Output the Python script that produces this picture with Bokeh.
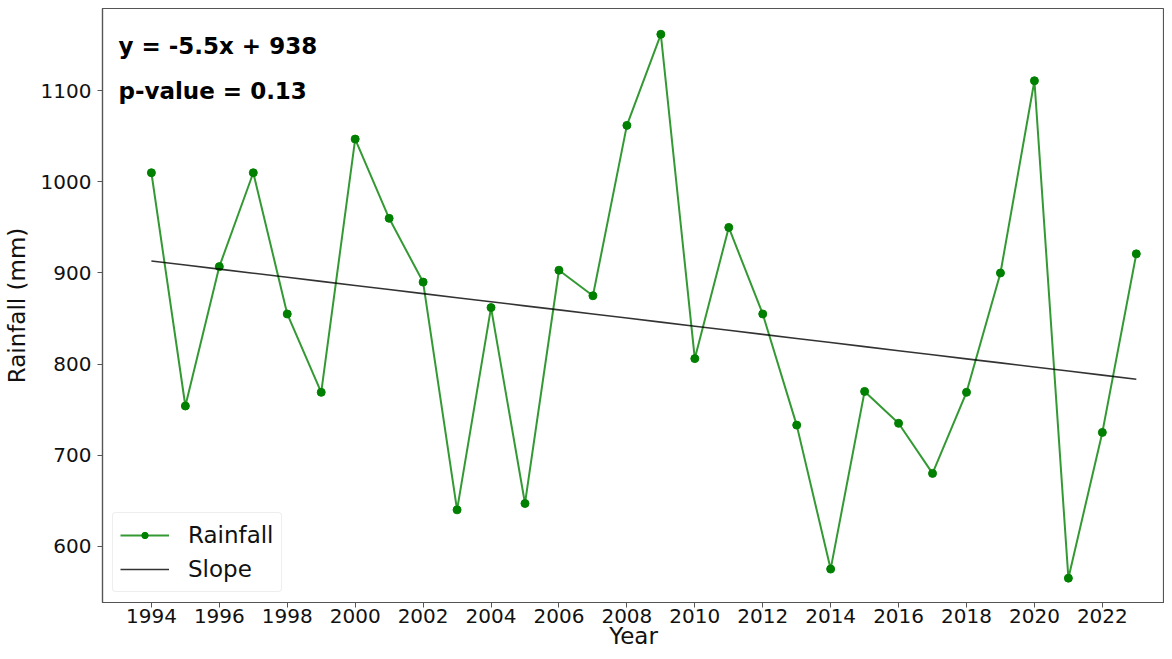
import numpy as np
from bokeh.plotting import figure
from bokeh.models import FixedTicker, Label, Legend, LegendItem
from bokeh.embed import file_html
from bokeh.resources import INLINE

years = list(range(1994, 2024))
rainfall = [1010, 754, 907, 1010, 855, 769, 1047, 960, 890, 640,
            862, 647, 903, 875, 1062, 1162, 806, 950, 855, 733,
            575, 770, 735, 680, 769, 900, 1111, 565, 725, 921]
x_ticks = list(range(1994, 2023, 2))
y_ticks = [600, 700, 800, 900, 1000, 1100]
eq_text = "y = -5.5x + 938"
p_text = "p-value = 0.13"

coef = np.polyfit(years, rainfall, 1)
trend = list(np.polyval(coef, years))

FONT = "DejaVu Sans"

p = figure(width=1164, height=651, output_backend="svg", toolbar_location=None,
           x_range=(1992.56, 2023.83), y_range=(538.3, 1190.3),
           min_border_top=8, min_border_right=0, min_border_left=10, min_border_bottom=0)
p.xgrid.visible = False
p.ygrid.visible = False
p.outline_line_color = "#555555"
p.outline_line_width = 1.2

ln = p.line(years, rainfall, line_color="green", line_alpha=0.8, line_width=2)
sc = p.scatter(years, rainfall, size=8, fill_color="green", line_color="green")
tr = p.line(years, trend, line_color="black", line_alpha=0.8, line_width=1.6)

for ax in (p.xaxis[0], p.yaxis[0]):
    ax.major_label_text_font = FONT
    ax.major_label_text_font_size = "20px"
    ax.major_label_text_color = "#111111"
    ax.axis_label_text_font = FONT
    ax.axis_label_text_font_size = "23px"
    ax.axis_label_text_font_style = "normal"
    ax.axis_label_text_color = "#111111"
    ax.minor_tick_line_color = None
    ax.major_tick_out = 5
    ax.major_tick_in = 0
    ax.major_tick_line_color = "#555555"
    ax.axis_line_color = "#555555"
    ax.axis_line_width = 1.2

p.xaxis[0].ticker = FixedTicker(ticks=x_ticks)
p.yaxis[0].ticker = FixedTicker(ticks=y_ticks)
p.xaxis[0].axis_label = "Year"
p.yaxis[0].axis_label = "Rainfall (mm)"
p.xaxis[0].major_label_standoff = 1
p.xaxis[0].axis_label_standoff = -3
p.yaxis[0].major_label_standoff = 6
p.yaxis[0].axis_label_standoff = 8

p.add_layout(Label(x=1993.03, y=1149.6, text=eq_text,
                   text_font=FONT, text_font_size="23px", text_font_style="bold",
                   text_baseline="alphabetic", text_color="black"))
p.add_layout(Label(x=1993.03, y=1100, text=p_text,
                   text_font=FONT, text_font_size="23px", text_font_style="bold",
                   text_baseline="alphabetic", text_color="black"))

legend = Legend(items=[LegendItem(label="Rainfall", renderers=[ln, sc]),
                       LegendItem(label="Slope", renderers=[tr])],
                location="bottom_left")
legend.label_text_font = FONT
legend.label_text_font_size = "23px"
legend.label_text_color = "#111111"
legend.border_line_color = "#dddddd"
legend.border_radius = 4
legend.margin = 10
legend.padding = 7
legend.spacing = 4
legend.glyph_width = 49
legend.glyph_height = 16
legend.label_height = 30
legend.label_standoff = 19
p.add_layout(legend)

open("out.html", "w").write(file_html(p, INLINE))
